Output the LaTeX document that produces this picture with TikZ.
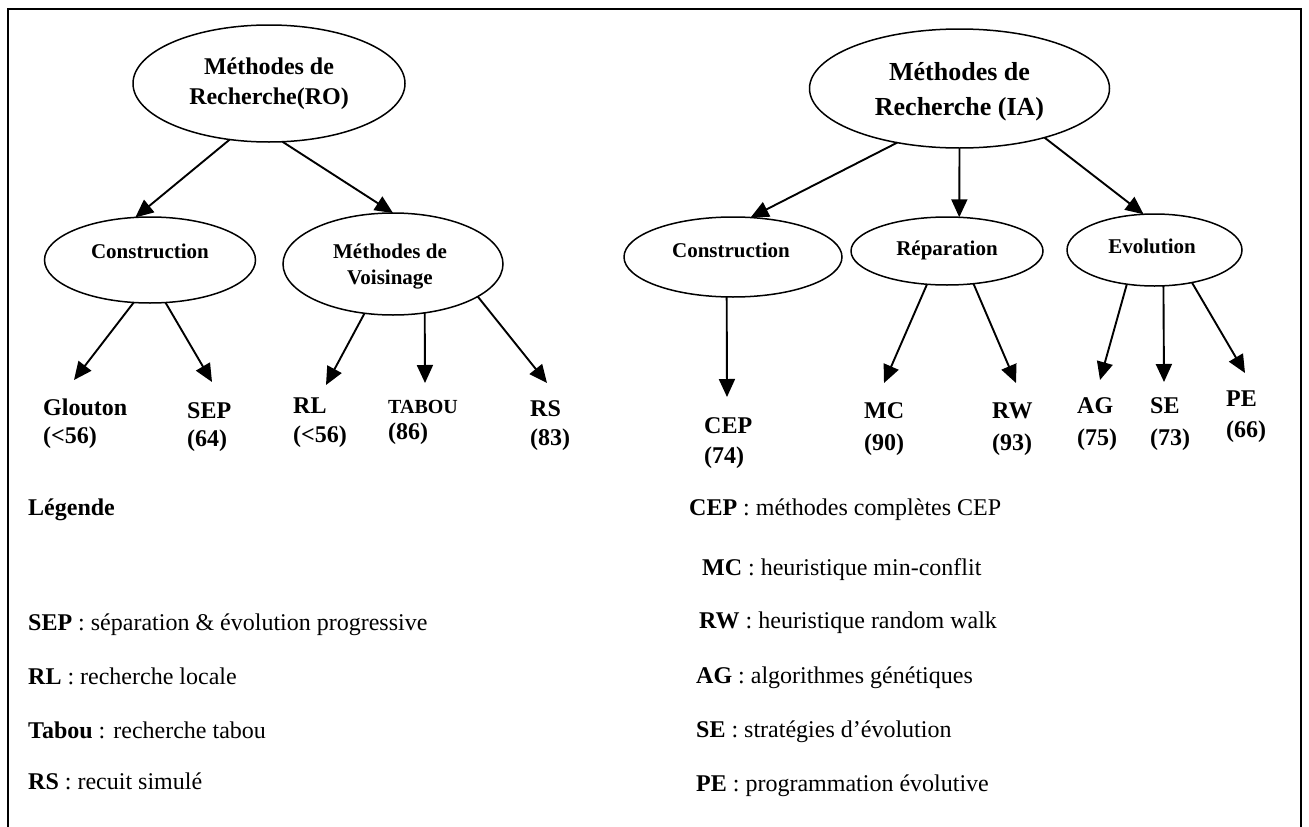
\documentclass[tikz,border=0pt]{standalone}
\usepackage{fontspec}
\setmainfont{Liberation Serif}
\usetikzlibrary{shapes.geometric,arrows.meta}

\tikzset{
  ell/.style={draw, ellipse, line width=1.5pt, inner sep=0pt, outer sep=0pt},
  arr/.style={line width=1.9pt, -{Triangle[length=18pt,width=16pt]}},
  rootlbl/.style={font=\bfseries\fontsize{24}{30}\selectfont, anchor=base, inner sep=0pt},
  rootlblr/.style={font=\bfseries\fontsize{26}{34}\selectfont, anchor=base, inner sep=0pt},
  lbl/.style={font=\bfseries\fontsize{21}{26}\selectfont, anchor=base, inner sep=0pt},
  leaf/.style={font=\bfseries\fontsize{24}{28}\selectfont, anchor=base west, inner sep=0pt},
  leafs/.style={font=\bfseries\fontsize{20}{24}\selectfont, anchor=base west, inner sep=0pt},
  lg/.style={font=\fontsize{24}{28}\selectfont, anchor=base west, inner sep=0pt}
}

\begin{document}
\begin{tikzpicture}[x=1pt,y=-1pt]
\useasboundingbox (0,0) rectangle (1309,827);

% open frame
\draw[line width=1.6pt] (8,827) -- (8,9) -- (1301,9) -- (1301,827);

% ---------- tree RO ----------
\node[ell, minimum width=272pt, minimum height=117pt] (ro) at (269,83.5) {};
\node[rootlbl] (ro1) at (269,74) {Méthodes de};
\node[rootlbl] (ro2) at (269,104) {Recherche(RO)};

\node[ell, minimum width=211pt, minimum height=86pt] (consL) at (150,260) {};
\node[lbl] (consLt) at (150,258) {Construction};

\node[ell, minimum width=220pt, minimum height=102pt] (voi) at (393,264) {};
\node[lbl] (voi1) at (390,258) {Méthodes de};
\node[lbl] (voi2) at (390,284) {Voisinage};

\draw[arr] (ro.235.6) -- (consL.109.2);
\draw[arr] (ro.283.2) -- (voi.90);

\node[leaf] (glouton) at (43,415) {Glouton};
\node[leaf] (gloutonv) at (43,443) {(<56)};
\node[leaf] (sep) at (187,418) {SEP};
\node[leaf] (sepv) at (187,446) {(64)};
\node[leaf] (rl) at (293,413) {RL};
\node[leaf] (rlv) at (293,442) {(<56)};
\node[leafs] (tabou) at (388,413) {TABOU};
\node[leaf] (tabouv) at (388,439) {(86)};
\node[leaf] (rs) at (530,416) {RS};
\node[leaf] (rsv) at (530,445) {(83)};

\coordinate (tGlouton) at (74,380);
\coordinate (tSep) at (212,382);
\coordinate (tRl) at (326,385);
\coordinate (tTabou) at (425,383);
\coordinate (tRs) at (547,383);

\draw[arr] (consL.249.6) -- (tGlouton);
\draw[arr] (consL.290.7) -- (tSep);
\draw[arr] (voi.240.5) -- (tRl);
\draw[arr] (voi.303.1) -- (tTabou);
\draw[arr] (voi.339.3) -- (tRs);

% ---------- tree IA ----------
\node[ell, minimum width=300pt, minimum height=119pt] (ia) at (959.5,88.5) {};
\node[rootlblr] (ia1) at (959.5,80) {Méthodes de};
\node[rootlblr] (ia2) at (959.5,115) {Recherche (IA)};

\node[ell, minimum width=218pt, minimum height=80pt] (consR) at (733,257) {};
\node[lbl] (consRt) at (731,257) {Construction};
\node[ell, minimum width=192pt, minimum height=68pt] (rep) at (947,251) {};
\node[lbl] (rept) at (947,255) {Réparation};
\node[ell, minimum width=175pt, minimum height=72pt] (evo) at (1154.5,250) {};
\node[lbl] (evot) at (1152,253) {Evolution};

\draw[arr] (ia.221) -- (consR.66.4);
\draw[arr] (ia.270) -- (rep.70.6);
\draw[arr] (ia.330.8) -- (evo.107.7);

\node[leaf] (cep) at (704,433) {CEP};
\node[leaf] (cepv) at (704,463) {(74)};
\node[leaf] (mc) at (864,418) {MC};
\node[leaf] (mcv) at (864,450) {(90)};
\node[leaf] (rw) at (992,418) {RW};
\node[leaf] (rwv) at (992,450) {(93)};
\node[leaf] (ag) at (1077,413) {AG};
\node[leaf] (agv) at (1077,445) {(75)};
\node[leaf] (se) at (1150,413) {SE};
\node[leaf] (sev) at (1150,445) {(73)};
\node[leaf] (pe) at (1226,406) {PE};
\node[leaf] (pev) at (1226,437) {(66)};

\coordinate (tCep) at (727,397);
\coordinate (tMc) at (884,383);
\coordinate (tRw) at (1016,383);
\coordinate (tAg) at (1100,380);
\coordinate (tSe) at (1164,382);
\coordinate (tPe) at (1245,373);

\draw[arr] (consR.261.5) -- (tCep);
\draw[arr] (rep.239.3) -- (tMc);
\draw[arr] (rep.309) -- (tRw);
\draw[arr] (evo.231.8) -- (tAg);
\draw[arr] (evo.284.8) -- (tSe);
\draw[arr] (evo.319.4) -- (tPe);

% ---------- legend ----------
\node[lg] (lgTitle) at (28,515) {\textbf{Légende}};
\node[lg] (lgSep) at (28,630) {\textbf{SEP} : séparation \& évolution progressive};
\node[lg] (lgRl) at (28,684) {\textbf{RL} : recherche locale};
\node[lg] (lgTabou) at (28,738) {\textbf{Tabou} : recherche tabou};
\node[lg] (lgRs) at (28,789) {\textbf{RS} : recuit simulé};

\node[lg] (lgCep) at (689,515) {\textbf{CEP} : méthodes complètes CEP};
\node[lg] (lgMc) at (702,575) {\textbf{MC} : heuristique min-conflit};
\node[lg] (lgRw) at (699,628) {\textbf{RW} : heuristique random walk};
\node[lg] (lgAg) at (696,683) {\textbf{AG} : algorithmes génétiques};
\node[lg] (lgSe) at (696,737) {\textbf{SE} : stratégies d’évolution};
\node[lg] (lgPe) at (696,791) {\textbf{PE} : programmation évolutive};
\end{tikzpicture}
\end{document}
